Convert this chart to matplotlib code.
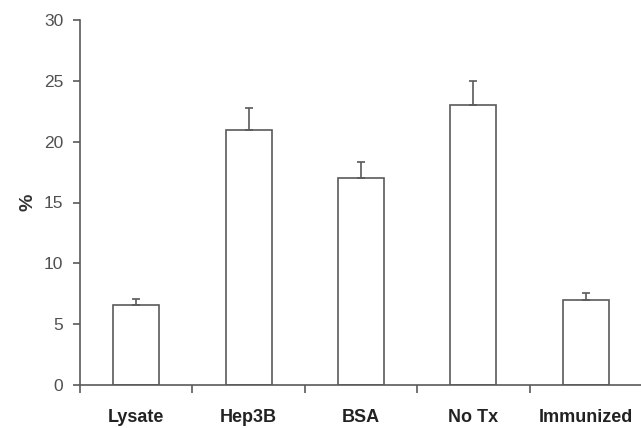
import matplotlib
matplotlib.use("Agg")
import matplotlib.pyplot as plt
import numpy as np

categories = ["Lysate", "Hep3B", "BSA", "No Tx", "Immunized"]
values = [6.6, 21.0, 17.0, 23.0, 7.0]
errors = [0.5, 1.8, 1.3, 1.95, 0.6]
yticks = [0, 5, 10, 15, 20, 25, 30]

plt.rcParams['font.family'] = ['Liberation Sans', 'DejaVu Sans']

fig = plt.figure(figsize=(6.41, 4.28), dpi=100)
ax = fig.add_axes([80/641, 1-385/428, 562/641, (385-20)/428])

axcol = '#5a5a5a'
x = np.arange(len(categories))
ax.bar(x, values, width=0.41, color='white', edgecolor=axcol, linewidth=1.2, zorder=2)
ax.errorbar(x, values, yerr=[np.zeros(len(errors)), errors], fmt='none',
            ecolor=axcol, elinewidth=1.2, capsize=3, capthick=1.2, zorder=3)

ax.set_xlim(-0.5, len(categories) - 0.5)
ax.set_ylim(0, 30)
ax.set_yticks(yticks)
ax.set_yticklabels([str(t) for t in yticks], fontsize=12.5, color='#505050')
ax.set_xticks(np.arange(len(categories) + 1) - 0.5)
ax.set_xticklabels([])
ax.set_xticks(x, minor=True)
ax.set_xticklabels(categories, minor=True, fontsize=13, fontweight='bold', color='#222222')
ax.tick_params(axis='x', which='minor', length=0, pad=17)
ax.tick_params(axis='x', which='major', length=6, width=1.2, color=axcol, direction='out')
ax.tick_params(axis='y', length=5, width=1.2, color=axcol, direction='out', pad=7)

for s in ['top', 'right']:
    ax.spines[s].set_visible(False)
for s in ['left', 'bottom']:
    ax.spines[s].set_color(axcol)
    ax.spines[s].set_linewidth(1.2)
ax.spines['left'].set_bounds(0, 30)

ax.set_ylabel('%', fontsize=14, fontweight='bold', color='#333333')
ax.yaxis.set_label_coords(-0.078, 0.5)

fig.savefig('out.png', dpi=100)
